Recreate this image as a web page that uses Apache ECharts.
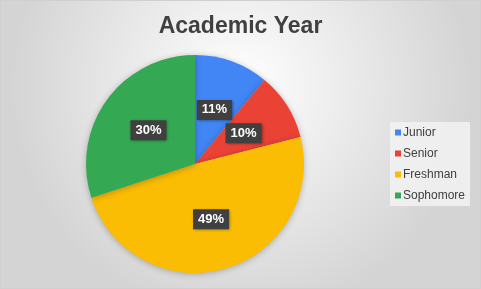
<!DOCTYPE html>
<html><head><meta charset="utf-8">
<script src="https://cdn.jsdelivr.net/npm/echarts@6/dist/echarts.min.js"></script>
<style>html,body{margin:0;padding:0;background:#fff}#c{width:481px;height:289px}</style>
</head><body><div id="c"></div>
<script>
const categories = ['Junior', 'Senior', 'Freshman', 'Sophomore'];
const values = [11, 10, 49, 30];
const colors = ['#4285F4', '#EA4335', '#FBBC04', '#34A853'];
const titleText = 'Academic Year';

const chart = echarts.init(document.getElementById('c'), null, {renderer: 'canvas'});
chart.setOption({
  animation: false,
  backgroundColor: {type: 'radial', x: 0.5, y: 0.3, r: 0.8,
    colorStops: [{offset: 0, color: '#ffffff'}, {offset: 1, color: '#d4d4d4'}]},
  title: {text: titleText, left: 'center', top: 10,
    textStyle: {fontFamily: 'Liberation Sans', fontSize: 23, fontWeight: 'bold', color: '#404040', letterSpacing: 1.5}},
  graphic: [{type: 'rect', shape: {x: 0.5, y: 0.5, width: 480, height: 288},
    style: {fill: 'none', stroke: '#d0d0d0', lineWidth: 1}, silent: true}],
  legend: {orient: 'vertical', left: 390, top: 122, width: 81,
    backgroundColor: 'rgba(242,242,242,0.85)', padding: [4, 5, 4, 5],
    itemWidth: 6, itemHeight: 6, itemGap: 8, icon: 'rect',
    textStyle: {fontFamily: 'Liberation Sans', fontSize: 12, color: '#404040', padding: [0, 0, 0, -3], lineHeight: 13, letterSpacing: 0.3},
    data: categories},
  series: [{type: 'pie', center: [195, 164], radius: 109, clockwise: true, startAngle: 90,
    itemStyle: {shadowBlur: 6, shadowColor: 'rgba(0,0,0,0.25)', shadowOffsetY: 1},
    label: {position: 'inside', formatter: '{d}%', fontFamily: 'Liberation Sans', fontSize: 13, fontWeight: 'bold',
      color: '#ffffff', backgroundColor: '#404040', padding: [4, 5, 3, 5], letterSpacing: 0.5,
      shadowBlur: 3, shadowColor: 'rgba(0,0,0,0.45)', shadowOffsetX: 1, shadowOffsetY: 1},
    labelLine: {show: false},
    data: categories.map((n, i) => ({name: n, value: values[i], itemStyle: {color: colors[i]}}))
  }]
});
</script></body></html>
